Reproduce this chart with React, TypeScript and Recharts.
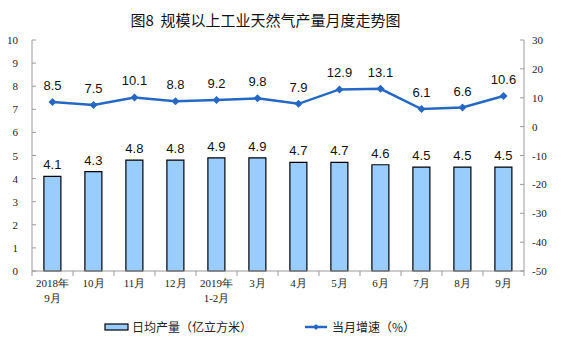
import React from "react";
import {
  ComposedChart,
  Bar,
  Line,
  XAxis,
  YAxis,
  LabelList,
  Legend,
} from "recharts";

const months = [
  "2018年\n9月",
  "10月",
  "11月",
  "12月",
  "2019年\n1-2月",
  "3月",
  "4月",
  "5月",
  "6月",
  "7月",
  "8月",
  "9月",
];
const dailyOutput = [4.1, 4.3, 4.8, 4.8, 4.9, 4.9, 4.7, 4.7, 4.6, 4.5, 4.5, 4.5];
const monthlyGrowth = [8.5, 7.5, 10.1, 8.8, 9.2, 9.8, 7.9, 12.9, 13.1, 6.1, 6.6, 10.6];
const leftTicks = [0, 1, 2, 3, 4, 5, 6, 7, 8, 9, 10];
const rightTicks = [-50, -40, -30, -20, -10, 0, 10, 20, 30];

const data = months.map((m, i) => ({
  month: m,
  output: dailyOutput[i],
  growth: monthlyGrowth[i],
}));

const W = 561;
const H = 357;
const LEFT = 32;
const RIGHT = 524;
const BAND = (RIGHT - LEFT) / months.length;
const AXIS = "#9a9a9a";
const LINE = "#2468c4";
const SERIF = "'Liberation Serif', 'Times New Roman', serif";
const SANS = "'Liberation Sans', Arial, sans-serif";
const CJK = "'Noto Sans CJK SC', sans-serif";

const MonthTick = (props: any) => {
  const { x, y, payload, index } = props;
  const lines = String(payload.value).split("\n");
  return (
    <g>
      <line x1={x - BAND / 2} x2={x - BAND / 2} y1={y} y2={y + 5} stroke={AXIS} />
      {index === months.length - 1 && (
        <line x1={x + BAND / 2} x2={x + BAND / 2} y1={y} y2={y + 5} stroke={AXIS} />
      )}
      <text x={x} y={y + 16} textAnchor="middle" fontSize={11} fill="#222" fontFamily={SERIF}>
        {lines.map((l, i) => (
          <tspan key={i} x={x} dy={i === 0 ? 0 : 15}>
            {l}
          </tspan>
        ))}
      </text>
    </g>
  );
};

const LeftTick = (props: any) => {
  const { x, y, payload } = props;
  return (
    <g>
      <line x1={x} x2={x + 4} y1={y} y2={y} stroke={AXIS} />
      <text x={x - 14} y={y + 4} textAnchor="end" fontSize={11} fill="#222" fontFamily={SERIF}>
        {payload.value}
      </text>
    </g>
  );
};

const RightTick = (props: any) => {
  const { x, y, payload } = props;
  return (
    <g>
      <line x1={x - 4} x2={x} y1={y} y2={y} stroke={AXIS} />
      <text x={x + 8} y={y + 4} textAnchor="start" fontSize={11} fill="#222" fontFamily={SERIF}>
        {payload.value}
      </text>
    </g>
  );
};

const Diamond = (props: any) => {
  const { cx, cy } = props;
  if (cx == null || cy == null) return null;
  const r = 4;
  return (
    <polygon
      points={`${cx},${cy - r} ${cx + r},${cy} ${cx},${cy + r} ${cx - r},${cy}`}
      fill={LINE}
    />
  );
};

const LegendContent = () => (
  <svg width={W} height={20} style={{ display: "block" }}>
    <rect x={105} y={7} width={23} height={6} fill="#99ccff" stroke="#000" strokeWidth={1.2} />
    <text x={132} y={14.5} fontSize={12} fill="#222" fontFamily={CJK}>
      日均产量（亿立方米）
    </text>
    <line x1={305} x2={327} y1={10} y2={10} stroke={LINE} strokeWidth={2.5} />
    <polygon points="316,7 319,10 316,13 313,10" fill={LINE} />
    <text x={332} y={14.5} fontSize={12} fill="#222" fontFamily={CJK}>
      当月增速（%）
    </text>
  </svg>
);

export default function App() {
  return (
    <div style={{ position: "absolute", left: 0, top: 0, width: W, height: H, background: "#fff" }}>
      <div
        style={{
          position: "absolute",
          top: 9,
          left: 0,
          width: W - 30,
          textAlign: "center",
          fontFamily: CJK,
          fontSize: 15,
          fontWeight: 400,
          color: "#111",
          zIndex: 2,
        }}
      >
        图8&nbsp;&nbsp;规模以上工业天然气产量月度走势图
      </div>
      <ComposedChart
        width={W}
        height={H}
        data={data}
        margin={{ top: 40, right: 0, left: 0, bottom: 0 }}
        barCategoryGap="29%"
      >
        <XAxis
          dataKey="month"
          stroke={AXIS}
          tickLine={false}
          tickSize={0}
          tickMargin={0}
          tick={<MonthTick />}
          interval={0}
          height={66}
        />
        <YAxis
          yAxisId="left"
          domain={[0, 10]}
          ticks={leftTicks}
          width={LEFT}
          stroke={AXIS}
          tickLine={false}
          tickSize={0}
          tickMargin={0}
          tick={<LeftTick />}
          interval={0}
        />
        <YAxis
          yAxisId="right"
          orientation="right"
          domain={[-50, 30]}
          ticks={rightTicks}
          width={W - RIGHT}
          stroke={AXIS}
          tickLine={false}
          tickSize={0}
          tickMargin={0}
          tick={<RightTick />}
          interval={0}
        />
        <Legend
          verticalAlign="bottom"
          height={20}
          content={<LegendContent />}
          wrapperStyle={{ top: 317, bottom: "auto", left: 0, height: 20 }}
        />
        <Bar
          yAxisId="left"
          dataKey="output"
          fill="#99ccff"
          stroke="#000"
          strokeWidth={1.2}
          isAnimationActive={false}
        >
          <LabelList
            dataKey="output"
            position="top"
            offset={7}
            fontSize={13}
            fill="#111"
            fontFamily={SANS}
            formatter={(v: any) => Number(v).toFixed(1)}
          />
        </Bar>
        <Line
          yAxisId="right"
          dataKey="growth"
          stroke={LINE}
          strokeWidth={2.5}
          dot={<Diamond />}
          activeDot={false}
          isAnimationActive={false}
        >
          <LabelList
            dataKey="growth"
            position="top"
            offset={12}
            fontSize={13}
            fill="#111"
            fontFamily={SANS}
            formatter={(v: any) => Number(v).toFixed(1)}
          />
        </Line>
      </ComposedChart>
    </div>
  );
}
